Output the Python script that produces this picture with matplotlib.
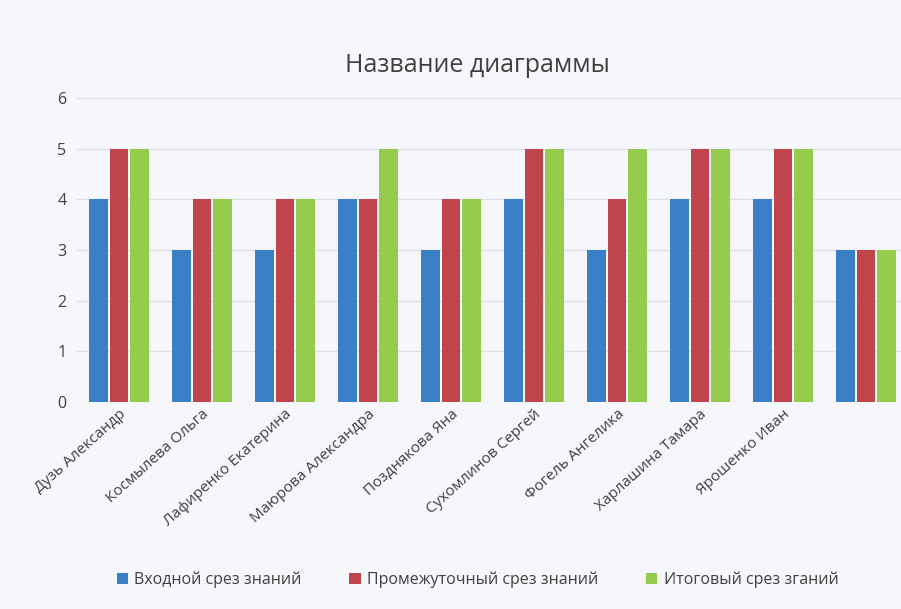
import matplotlib
matplotlib.use("Agg")
import matplotlib.pyplot as plt
import numpy as np

plt.rcParams['font.family'] = ['Open Sans', 'DejaVu Sans']

categories = ["Дузь Александр", "Космылева Ольга", "Лафиренко Екатерина",
              "Маюрова Александра", "Позднякова Яна", "Сухомлинов Сергей",
              "Фогель Ангелика", "Харлашина Тамара", "Ярошенко Иван", ""]
series_names = ["Входной срез знаний", "Промежуточный срез знаний", "Итоговый срез зганий"]
vhod = [4, 3, 3, 4, 3, 4, 3, 4, 4, 3]
prom = [5, 4, 4, 4, 4, 5, 4, 5, 5, 3]
itog = [5, 4, 4, 5, 4, 5, 5, 5, 5, 3]
colors = ["#3a80c6", "#c0444c", "#96cc4e"]

bg = "#f5f7fb"
fig = plt.figure(figsize=(9.01, 6.09), dpi=100, facecolor=bg)
ax = fig.add_axes([0.086, 1 - 402/609, 0.914, (402 - 98)/609])
ax.set_facecolor(bg)

x = np.arange(len(categories))
w = 0.225
gap = 0.02
for k, (vals, name) in enumerate(zip([vhod, prom, itog], series_names)):
    ax.bar(x + (k - 1) * (w + gap), vals, width=w, color=colors[k], label=name, zorder=3)

ax.set_ylim(0, 6)
ax.set_xlim(-0.5, 9.42)
ax.set_yticks(range(0, 7))
ax.yaxis.grid(True, color="#dcdfe5", linewidth=1, zorder=0)
for s in ax.spines.values():
    s.set_visible(False)
ax.tick_params(axis='both', length=0, labelsize=11.5, colors="#404040")
ax.tick_params(axis='y', pad=8)
ax.set_xticks(x)
ax.set_xticklabels(categories, rotation=42, ha='right', rotation_mode='anchor', fontsize=11, color="#404040")

fig.text(0.53, 1 - 66/609, "Название диаграммы", ha='center', va='center', fontsize=18, color="#404040")

leg = fig.legend(loc='center', bbox_to_anchor=(0.53, 1 - 580/609), ncol=3, frameon=False,
                 fontsize=11.5, handlelength=0.7, handleheight=0.7, columnspacing=3.0, handletextpad=0.4)
for t in leg.get_texts():
    t.set_color("#404040")

fig.savefig("out.png", dpi=100, facecolor=bg)
